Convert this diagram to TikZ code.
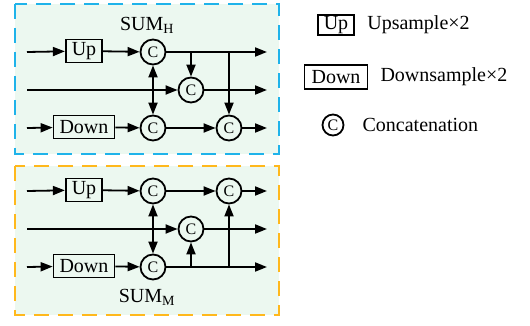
\documentclass[tikz,border=0pt]{standalone}
\usepackage{fontspec}
\setmainfont{Liberation Serif}
\usetikzlibrary{arrows.meta,positioning,calc}
\definecolor{skyline}{HTML}{1FB3EA}
\definecolor{amber}{HTML}{FFB81C}
\definecolor{mint}{HTML}{ECF8F0}
\newcommand\bigtxt{\fontsize{20}{24}\selectfont}

\tikzset{
  op/.style={draw,line width=1.8pt,inner xsep=6pt,inner ysep=0pt,minimum height=23pt,font=\bigtxt},
  cat/.style={draw,circle,line width=1.8pt,minimum size=25pt,inner sep=0pt,font=\fontsize{16}{18}\selectfont},
  flow/.style={line width=1.8pt,-{Triangle[length=12pt,width=9pt]}},
  twoway/.style={line width=1.8pt,{Triangle[length=12pt,width=9pt]}-{Triangle[length=12pt,width=9pt]}},
  panel/.style={line width=2pt,dash pattern=on 15pt off 9pt,fill=mint},
}

\begin{document}
\begin{tikzpicture}[x=1pt,y=-1pt]
\useasboundingbox (0,0) rectangle (530,326);
% SUM_H
\draw[panel,draw=skyline] (15,4) rectangle (279,154);
\node[font=\bigtxt] (titleH) at (147,25){SUM\textsubscript{H}};
\coordinate (hin1) at (27,52);\coordinate (hin2) at (27,90);\coordinate (hin3) at (27,128);
\coordinate (hout1) at (267,52);\coordinate (hout2) at (267,90);\coordinate (hout3) at (267,128);
\node[op] (hup) at (84,51){Up};
\node[op] (hdown) at (84,127){Down};
\node[cat] (hcA) at (153,52){C};
\node[cat] (hcB) at (191,90){C};
\node[cat] (hcC) at (153,128){C};
\node[cat] (hcD) at (229,128){C};
\draw[flow] (hin1) -- (hup);\draw[flow] (hup) -- (hcA);
\draw[flow] (hcA) -- (hout1);
\draw[flow] (hcB |- hcA) -- (hcB);
\draw[flow] (hcD |- hcA) -- (hcD);
\draw[flow] (hin2) -- (hcB);\draw[flow] (hcB) -- (hout2);
\draw[flow] (hin3) -- (hdown);\draw[flow] (hdown) -- (hcC);
\draw[flow] (hcC) -- (hcD);\draw[flow] (hcD) -- (hout3);
\draw[twoway] (hcA) -- (hcC);
% SUM_M
\draw[panel,draw=amber] (15,166) rectangle (279,315);
\node[font=\bigtxt] (titleM) at (147,297){SUM\textsubscript{M}};
\coordinate (min1) at (27,191);\coordinate (min2) at (27,229);\coordinate (min3) at (27,267);
\coordinate (mout1) at (267,191);\coordinate (mout2) at (267,229);\coordinate (mout3) at (267,267);
\node[op] (mup) at (84,190){Up};
\node[op] (mdown) at (84,266){Down};
\node[cat] (mcA) at (153,191){C};
\node[cat] (mcB) at (191,229){C};
\node[cat] (mcC) at (153,267){C};
\node[cat] (mcD) at (229,191){C};
\draw[flow] (min1) -- (mup);\draw[flow] (mup) -- (mcA);
\draw[flow] (mcA) -- (mcD);\draw[flow] (mcD) -- (mout1);
\draw[flow] (min2) -- (mcB);\draw[flow] (mcB) -- (mout2);
\draw[flow] (min3) -- (mdown);\draw[flow] (mdown) -- (mcC);
\draw[flow] (mcC) -- (mout3);
\draw[flow] (mcB |- mcC) -- (mcB);
\draw[flow] (mcD |- mcC) -- (mcD);
\draw[twoway] (mcA) -- (mcC);
% legend
\node[op,minimum height=20pt] (keyup) at (336,25){Up};
\node[right=12pt of keyup,font=\bigtxt,inner sep=0pt] (keyuptxt){Upsample×2};
\node[op,minimum height=24pt,inner xsep=7pt] (keydown) at (336,77){Down};
\node[right=12pt of keydown,font=\bigtxt,inner sep=0pt] (keydowntxt){Downsample×2};
\node[cat,minimum size=21pt] (keycat) at (333,125){C};
\node[right=18pt of keycat,font=\bigtxt,inner sep=0pt] (keycattxt){Concatenation};
\end{tikzpicture}
\end{document}
